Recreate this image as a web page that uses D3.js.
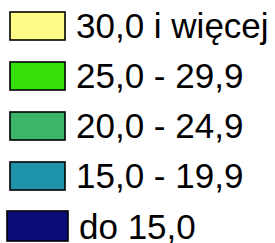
<!DOCTYPE html>
<html><head><meta charset="utf-8">
<script src="https://cdn.jsdelivr.net/npm/d3@7"></script>
<style>html,body{margin:0;padding:0;background:#fff;overflow:hidden}</style>
</head><body>
<script>
const labels = ["30,0 i więcej", "25,0 - 29,9", "20,0 - 24,9", "15,0 - 19,9", "do 15,0"];
const colors = ["#fdfb86", "#36e00b", "#3bb56a", "#1e93aa", "#0c0c78"];

const W = 275, H = 243;
const svg = d3.select("body").append("svg").attr("width", W).attr("height", H);
const y = d3.scaleBand().domain(labels).range([0, 250]).paddingInner(0).paddingOuter(0);

const g = svg.selectAll("g.row").data(labels).join("g").attr("class", "row")
  .attr("transform", d => `translate(0,${y(d)})`);

g.append("rect")
  .attr("x", (d, i) => i === 4 ? 7 : 10)
  .attr("y", (d, i) => i === 4 ? 11 : 12)
  .attr("width", (d, i) => i === 4 ? 61 : 55)
  .attr("height", (d, i) => i === 4 ? 30 : 28)
  .attr("fill", (d, i) => colors[i])
  .attr("stroke", "#000").attr("stroke-width", 1.6);

g.append("text")
  .attr("x", (d, i) => i === 4 ? 79 : 76)
  .attr("y", (d, i) => i === 4 ? 39 : 38)
  .attr("font-family", "Liberation Sans, Arial, sans-serif")
  .attr("font-size", 35)
  .attr("fill", "#000")
  .text(d => d);
</script>
</body></html>
